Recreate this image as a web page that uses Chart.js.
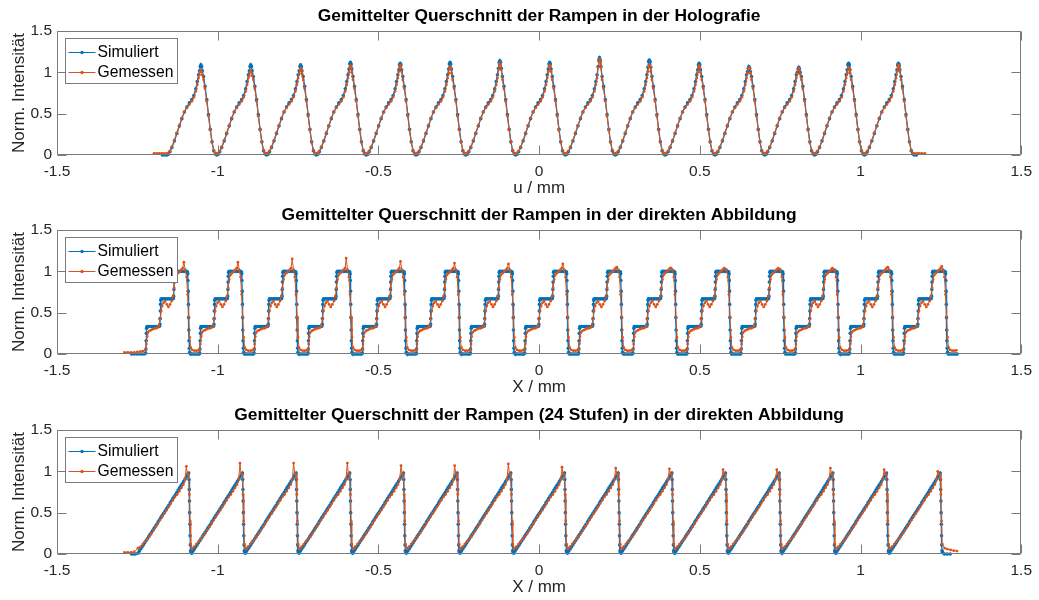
<!DOCTYPE html>
<html>
<head>
<meta charset="utf-8">
<title>Querschnitt der Rampen</title>
<script src="https://cdn.jsdelivr.net/npm/chart.js@4.4.0/dist/chart.umd.min.js"></script>
<style>
  body { margin: 0; background: #fff; }
  .panel { position: absolute; left: 0; width: 1039px; height: 200px; }
</style>
</head>
<body>
<div class="panel" style="top:0px"><canvas id="holo" width="1039" height="200"></canvas></div>
<div class="panel" style="top:199px"><canvas id="direct" width="1039" height="200"></canvas></div>
<div class="panel" style="top:399px"><canvas id="saw" width="1039" height="200"></canvas></div>
<script>
// Querschnitte: Holografie, direkte Abbildung (3 Stufen), direkte Abbildung (24 Stufen)
// Each ramp is listed as [fraction of period, intensity]; null entries are filled
// in order from that ramp's row of the matching peaks table

const FONT = '"Liberation Sans", Arial, Helvetica, sans-serif';
const BLUE = '#0072BD';
const ORANGE = '#D95319';

const xTicks = [-1.5, -1, -0.5, 0, 0.5, 1, 1.5];
const yTicks = [0, 0.5, 1, 1.5];

// --- Holografie ---
const holoPeriod = 0.155;
const holoStarts = [-1.158, -1.003, -0.848, -0.693, -0.538, -0.383, -0.228, -0.073,
  0.082, 0.237, 0.392, 0.547, 0.702, 0.857, 1.012];
const holoSimShape = [[0, 0], [0.03, 0.01], [0.06, 0.04], [0.1, 0.09], [0.15, 0.17], [0.2, 0.26],
  [0.25, 0.35], [0.3, 0.44], [0.35, 0.52], [0.4, 0.58], [0.45, 0.63], [0.5, 0.67], [0.54, 0.72],
  [0.58, 0.8], [0.61, 0.89], [0.635, 0.97], [0.655, null], [0.669, null], [0.683, null],
  [0.697, null], [0.711, null], [0.735, 0.95], [0.765, 0.83], [0.8, 0.67], [0.835, 0.49],
  [0.87, 0.31], [0.905, 0.16], [0.94, 0.05], [0.97, 0.012]];
const holoMeasShape = [[0, 0.02], [0.03, 0.025], [0.06, 0.05], [0.1, 0.1], [0.15, 0.18], [0.2, 0.27],
  [0.25, 0.36], [0.3, 0.45], [0.35, 0.52], [0.4, 0.57], [0.45, 0.61], [0.5, 0.65], [0.54, 0.7],
  [0.58, 0.77], [0.61, 0.85], [0.635, 0.93], [0.655, null], [0.669, null], [0.683, null],
  [0.697, null], [0.711, null], [0.735, 0.91], [0.765, 0.8], [0.8, 0.65], [0.835, 0.47],
  [0.87, 0.3], [0.905, 0.15], [0.94, 0.06], [0.97, 0.025]];
const holoSimPeaks = [
  [1.02, 1.07, 1.09, 1.07, 1.02], [1.02, 1.07, 1.09, 1.07, 1.02], [1.02, 1.07, 1.09, 1.07, 1.02],
  [1.04, 1.1, 1.12, 1.1, 1.04], [1.03, 1.09, 1.11, 1.09, 1.03], [1.04, 1.1, 1.12, 1.1, 1.04],
  [1.05, 1.12, 1.14, 1.12, 1.05], [1.04, 1.1, 1.12, 1.1, 1.04], [1.07, 1.15, 1.18, 1.15, 1.07],
  [1.06, 1.13, 1.15, 1.13, 1.06], [1.03, 1.09, 1.11, 1.09, 1.03], [1.01, 1.05, 1.07, 1.05, 1.01],
  [1.0, 1.04, 1.06, 1.04, 1.0], [1.03, 1.09, 1.11, 1.09, 1.03], [1.03, 1.09, 1.11, 1.09, 1.03]];
const holoMeasPeaks = [
  [0.97, 1.01, 1.03, 1.01, 0.97], [0.96, 1.0, 1.02, 1.0, 0.96], [0.98, 1.03, 1.05, 1.03, 0.98],
  [1.0, 1.06, 1.08, 1.06, 1.0], [1.01, 1.07, 1.09, 1.07, 1.01], [0.99, 1.05, 1.07, 1.05, 0.99],
  [1.03, 1.09, 1.11, 1.09, 1.03], [1.01, 1.07, 1.09, 1.07, 1.01], [1.06, 1.13, 1.16, 1.13, 1.06],
  [1.01, 1.07, 1.09, 1.07, 1.01], [1.0, 1.06, 1.08, 1.06, 1.0], [0.99, 1.04, 1.06, 1.04, 0.99],
  [0.98, 1.03, 1.05, 1.03, 0.98], [0.99, 1.04, 1.06, 1.04, 0.99], [1.01, 1.07, 1.09, 1.07, 1.01]];
const holoSimLead = [[-1.172, 0], [-1.165, 0]];
const holoMeasLead = [[-1.198, 0.02], [-1.19, 0.02], [-1.182, 0.02], [-1.174, 0.02], [-1.166, 0.02]];
const holoSimTail = [[1.167, 0], [1.174, 0]];
const holoMeasTail = [[1.167, 0.02], [1.175, 0.02], [1.183, 0.02], [1.191, 0.02], [1.2, 0.02]];

// --- direkte Abbildung, 3 Stufen ---
const directPeriod = 0.1684;
const directStarts = [-1.224, -1.056, -0.887, -0.719, -0.55, -0.382, -0.214, -0.045,
  0.123, 0.292, 0.46, 0.628, 0.797, 0.966, 1.134];
const directSimShape = [[0, 0.01], [0.004, 0.06], [0.008, 0.16], [0.012, 0.25], [0.017, 0.31], [0.024, 0.333],
  [0.05, 0.333], [0.08, 0.333], [0.11, 0.333], [0.14, 0.333], [0.17, 0.333], [0.2, 0.333], [0.23, 0.333],
  [0.255, 0.336], [0.262, 0.36], [0.266, 0.43], [0.27, 0.52], [0.274, 0.6], [0.279, 0.65], [0.286, 0.667],
  [0.315, 0.667], [0.345, 0.667], [0.375, 0.667], [0.405, 0.667], [0.435, 0.667], [0.465, 0.667],
  [0.49, 0.667], [0.51, 0.67], [0.517, 0.7], [0.521, 0.78], [0.525, 0.87], [0.529, 0.94],
  [0.534, 0.985], [0.542, 1.0], [0.57, 1.0], [0.6, 1.0], [0.63, 1.0], [0.66, 1.0], [0.69, 1.0],
  [0.72, 1.0], [0.75, 1.0], [0.77, 0.995], [0.777, 0.97], [0.781, 0.89], [0.785, 0.76], [0.789, 0.6],
  [0.793, 0.44], [0.797, 0.29], [0.801, 0.16], [0.806, 0.07], [0.813, 0.02], [0.825, 0], [0.85, 0],
  [0.88, 0], [0.91, 0], [0.94, 0], [0.97, 0], [0.99, 0]];
const directMeasShape = [[0, 0.05], [0.012, 0.12], [0.024, 0.21], [0.04, 0.26], [0.07, 0.28], [0.1, 0.29],
  [0.13, 0.3], [0.16, 0.31], [0.19, 0.31], [0.22, 0.32], [0.245, 0.34], [0.265, 0.42], [0.285, 0.52],
  [0.305, 0.58], [0.33, 0.62], [0.36, 0.64], [0.39, 0.6], [0.42, 0.57], [0.45, 0.6], [0.48, 0.64],
  [0.505, 0.7], [0.525, 0.8], [0.545, 0.9], [0.57, 0.96], [0.6, 0.98], [0.63, 1.0], [0.66, 1.02],
  [0.685, 1.04], [0.705, null], [0.73, 1.02], [0.755, 0.93], [0.775, 0.72], [0.795, 0.45],
  [0.812, 0.2], [0.83, 0.08], [0.86, 0.05], [0.9, 0.04], [0.94, 0.04], [0.975, 0.045]];
const directMeasPeaks = [[1.11], [1.11], [1.15], [1.16], [1.12], [1.1], [1.09], [1.09], [1.05],
  [1.04], [1.03], [1.03], [1.02], [1.05], [1.06]];
const directSimLead = [[-1.268, 0], [-1.26, 0], [-1.252, 0], [-1.244, 0], [-1.236, 0], [-1.229, 0]];
const directMeasLead = [[-1.29, 0.02], [-1.28, 0.02], [-1.27, 0.02], [-1.26, 0.02], [-1.25, 0.025],
  [-1.24, 0.03], [-1.232, 0.035]];

// --- direkte Abbildung, 24 Stufen ---
const sawPeriod = 0.167;
const sawStarts = [-1.248, -1.081, -0.914, -0.747, -0.58, -0.413, -0.246, -0.079,
  0.088, 0.255, 0.422, 0.589, 0.756, 0.923, 1.09];
const sawSimShape = [[0, 0.01], [0.025, 0.035], [0.05, 0.06], [0.075, 0.085], [0.1, 0.11], [0.125, 0.135],
  [0.15, 0.16], [0.175, 0.185], [0.2, 0.21], [0.225, 0.235], [0.25, 0.26], [0.275, 0.285], [0.3, 0.31],
  [0.325, 0.335], [0.35, 0.36], [0.375, 0.39], [0.4, 0.415], [0.425, 0.44], [0.45, 0.465], [0.475, 0.49],
  [0.5, 0.515], [0.525, 0.54], [0.55, 0.565], [0.575, 0.59], [0.6, 0.62], [0.625, 0.645], [0.65, 0.67],
  [0.675, 0.695], [0.7, 0.72], [0.725, 0.745], [0.75, 0.775], [0.775, 0.8], [0.8, 0.825], [0.825, 0.85],
  [0.85, 0.875], [0.875, 0.905], [0.9, 0.93], [0.925, 0.955], [0.945, 0.98], [0.951, 0.9], [0.955, 0.78],
  [0.959, 0.64], [0.963, 0.5], [0.967, 0.36], [0.971, 0.22], [0.975, 0.11], [0.98, 0.04], [0.99, 0.02]];
const sawMeasShape = [[0, 0.07], [0.02, 0.07], [0.05, 0.09], [0.09, 0.12], [0.13, 0.15], [0.17, 0.18],
  [0.21, 0.21], [0.25, 0.25], [0.29, 0.29], [0.33, 0.33], [0.37, 0.37], [0.41, 0.41], [0.45, 0.45],
  [0.49, 0.49], [0.53, 0.53], [0.57, 0.57], [0.61, 0.61], [0.65, 0.65], [0.69, 0.69], [0.73, 0.72],
  [0.77, 0.76], [0.81, 0.8], [0.845, 0.84], [0.875, 0.9], [0.9, null], [0.92, 0.97], [0.945, 0.96],
  [0.958, 0.72], [0.97, 0.4], [0.983, 0.12]];
const sawMeasPeaks = [[1.06], [1.1], [1.1], [1.1], [1.07], [1.07], [1.09], [1.05], [1.04], [1.03],
  [1.02], [1.02], [1.04], [1.02], [1.0]];
const sawSimLead = [[-1.268, 0], [-1.262, 0], [-1.256, 0]];
const sawMeasLead = [[-1.29, 0.02], [-1.28, 0.02], [-1.27, 0.02], [-1.26, 0.025]];
const sawSimTail = [[1.262, 0], [1.27, 0], [1.279, 0]];
const sawMeasTail = [[1.262, 0.07], [1.27, 0.06], [1.28, 0.05], [1.29, 0.04], [1.3, 0.035]];

// place each ramp's listed points at its start position
function rampSeries(lead, starts, period, shape, peaks, tail) {
  const pts = lead.map(p => ({ x: p[0], y: p[1] }));
  starts.forEach((s, i) => {
    let k = 0;
    shape.forEach(([f, v]) => {
      const y = v === null ? peaks[i][k++] : v;
      pts.push({ x: s + f * period, y });
    });
  });
  tail.forEach(p => pts.push({ x: p[0], y: p[1] }));
  return pts;
}

// box, inward ticks, title over the axes and legend, drawn like a MATLAB axes
const matlabAxes = {
  id: 'matlabAxes',
  afterDatasetsDraw(chart) {
    const { ctx, chartArea: a, scales: { x, y } } = chart;
    const L = Math.round(a.left) + 0.5, R = Math.round(a.right) - 0.5;
    const T = Math.round(a.top) + 0.5, B = Math.round(a.bottom) - 0.5;
    const tl = 9;
    ctx.save();
    ctx.strokeStyle = '#7a7a7a';
    ctx.lineWidth = 1;
    ctx.beginPath();
    ctx.rect(L, T, R - L, B - T);
    xTicks.forEach(v => {
      const px = Math.round(x.getPixelForValue(v)) + 0.5;
      ctx.moveTo(px, B); ctx.lineTo(px, B - tl);
      ctx.moveTo(px, T); ctx.lineTo(px, T + tl);
    });
    yTicks.forEach(v => {
      const py = Math.round(y.getPixelForValue(v)) + 0.5;
      ctx.moveTo(L, py); ctx.lineTo(L + tl, py);
      ctx.moveTo(R, py); ctx.lineTo(R - tl, py);
    });
    ctx.stroke();

    // title, centred over the axes box
    ctx.fillStyle = '#000';
    ctx.font = 'bold 17.4px ' + FONT;
    ctx.textAlign = 'center';
    ctx.textBaseline = 'middle';
    ctx.fillText(chart.options.panelTitle, (a.left + a.right) / 2, a.top - 14.3);

    // legend
    const bx = Math.round(a.left) + 8.5, by = Math.round(a.top) + 7.5;
    ctx.fillStyle = '#fff';
    ctx.fillRect(bx, by, 112, 45);
    ctx.strokeStyle = '#7a7a7a';
    ctx.strokeRect(bx, by, 112, 45);
    ctx.font = '15.7px ' + FONT;
    ctx.textAlign = 'left';
    chart.data.datasets.forEach((ds, i) => {
      const ry = by + 14 + i * 20;
      ctx.strokeStyle = ds.borderColor;
      ctx.lineWidth = 1;
      ctx.beginPath();
      ctx.moveTo(bx + 3, ry); ctx.lineTo(bx + 30, ry);
      ctx.stroke();
      ctx.fillStyle = ds.borderColor;
      ctx.beginPath();
      ctx.arc(bx + 16.5, ry, 1.7, 0, Math.PI * 2);
      ctx.fill();
      ctx.fillStyle = '#000';
      ctx.fillText(ds.label, bx + 32, ry);
    });
    ctx.restore();
  }
};

function makePanel(id, title, xTitle, sim, meas) {
  const tickFont = { family: FONT, size: 15.5 };
  const labelFont = { family: FONT, size: 17 };
  new Chart(document.getElementById(id), {
    type: 'line',
    data: {
      datasets: [
        { label: 'Simuliert', data: sim, borderColor: BLUE, backgroundColor: BLUE,
          borderWidth: 1.3, pointRadius: 1.8, pointBorderWidth: 0, order: 1, clip: false },
        { label: 'Gemessen', data: meas, borderColor: ORANGE, backgroundColor: ORANGE,
          borderWidth: 1, pointRadius: 1.4, pointBorderWidth: 0, order: 0, clip: false }
      ]
    },
    options: {
      panelTitle: title,
      responsive: false,
      animation: false,
      devicePixelRatio: 1,
      layout: { padding: { left: 0, right: 16, top: 31, bottom: 0 } },
      plugins: {
        legend: { display: false },
        tooltip: { enabled: false },
        title: { display: false }
      },
      scales: {
        x: {
          type: 'linear', min: -1.5, max: 1.5,
          grid: { display: false, drawTicks: false }, border: { display: false },
          ticks: { stepSize: 0.5, autoSkip: false, maxRotation: 0, padding: 7,
            color: '#262626', font: tickFont, callback: v => String(v) },
          title: { display: true, text: xTitle, color: '#262626', font: labelFont,
            padding: { top: 0, bottom: 1 } },
          afterFit: s => { s.height = 45; }
        },
        y: {
          min: 0, max: 1.5,
          grid: { display: false, drawTicks: false }, border: { display: false },
          ticks: { stepSize: 0.5, padding: 5, color: '#262626', font: tickFont,
            callback: v => String(v) },
          title: { display: true, text: 'Norm. Intensität', color: '#262626', font: labelFont,
            padding: { top: 9, bottom: 0 } },
          afterFit: s => { s.width = 57; }
        }
      }
    },
    plugins: [matlabAxes]
  });
}

makePanel('holo', 'Gemittelter Querschnitt der Rampen in der Holografie', 'u / mm',
  rampSeries(holoSimLead, holoStarts, holoPeriod, holoSimShape, holoSimPeaks, holoSimTail),
  rampSeries(holoMeasLead, holoStarts, holoPeriod, holoMeasShape, holoMeasPeaks, holoMeasTail));

makePanel('direct', 'Gemittelter Querschnitt der Rampen in der direkten Abbildung', 'X / mm',
  rampSeries(directSimLead, directStarts, directPeriod, directSimShape, null, []),
  rampSeries(directMeasLead, directStarts, directPeriod, directMeasShape, directMeasPeaks, []));

makePanel('saw', 'Gemittelter Querschnitt der Rampen (24 Stufen) in der direkten Abbildung', 'X / mm',
  rampSeries(sawSimLead, sawStarts, sawPeriod, sawSimShape, null, sawSimTail),
  rampSeries(sawMeasLead, sawStarts, sawPeriod, sawMeasShape, sawMeasPeaks, sawMeasTail));
</script>
</body>
</html>
